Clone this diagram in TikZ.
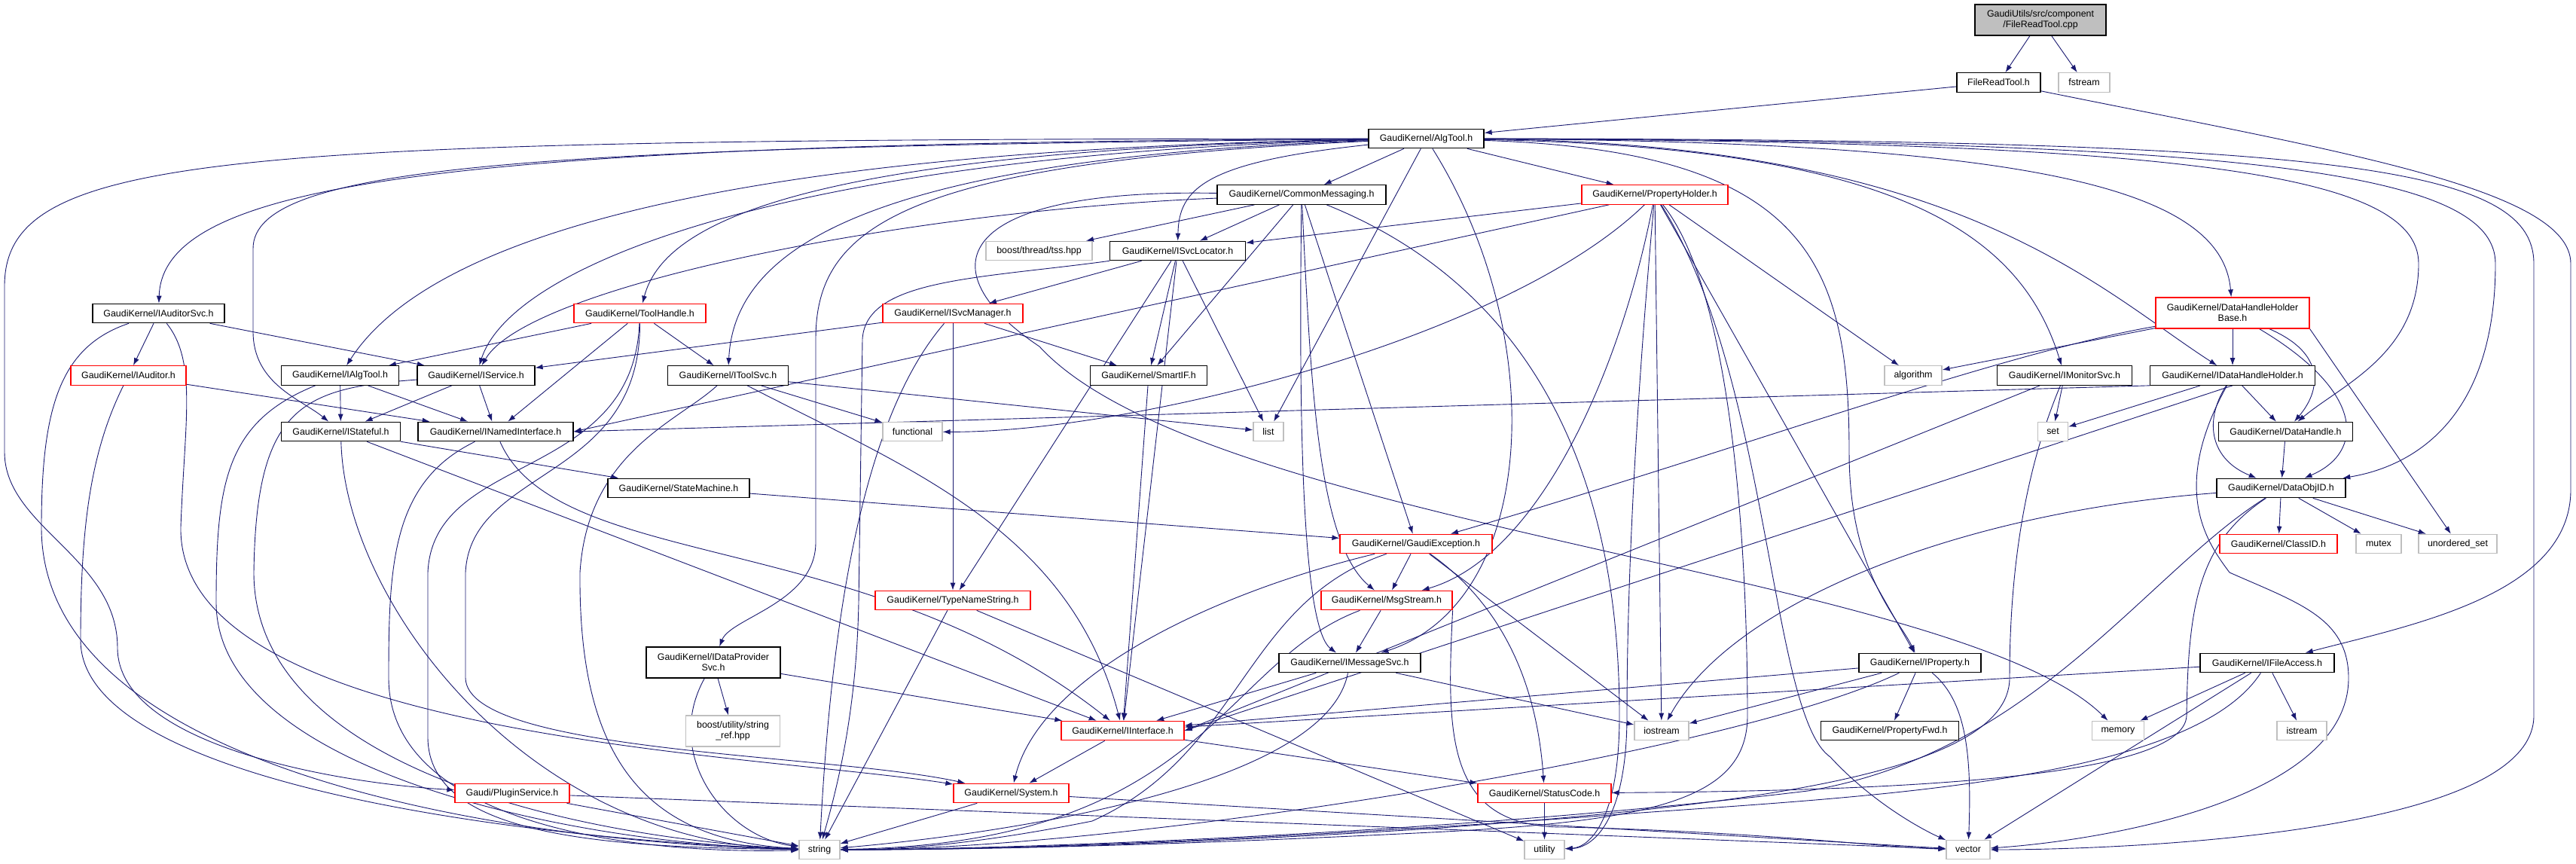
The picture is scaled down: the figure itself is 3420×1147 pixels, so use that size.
\documentclass[tikz,border=0pt]{standalone}
\usepackage{fontspec}
\setmainfont{Liberation Sans}
\usetikzlibrary{arrows.meta,backgrounds}
\definecolor{edgeblue}{HTML}{191970}
\definecolor{sysgrey}{HTML}{BFBFBF}
\definecolor{truncred}{HTML}{FF0000}
\begin{document}
\begin{tikzpicture}[x=1pt, y=-1pt,
  hdr/.style={draw=black, fill=white, line width=1.2pt, inner sep=0pt, minimum height=25.5pt, align=center, font=\fontsize{12.4}{14}\selectfont},
  hdrred/.style={hdr, draw=truncred},
  hdrsys/.style={hdr, draw=sysgrey},
  inc/.style={edgeblue, line width=0.9pt, -{Latex[length=10pt,width=7pt]}}]
\useasboundingbox (0,0) rectangle (3420,1147);

\node[hdr, fill=sysgrey, minimum width=174pt, minimum height=41pt] (root) at (2709,26.5) {GaudiUtils/src/component\\/FileReadTool.cpp};
\node[hdr, minimum width=111pt] (freadh) at (2653.5,109.5) {FileReadTool.h};
\node[hdrsys, minimum width=68pt] (fstream) at (2767,109.5) {fstream};
\node[hdr, minimum width=153pt] (algtool) at (1893.5,184) {GaudiKernel/AlgTool.h};
\node[hdr, minimum width=224pt] (commsg) at (1728,258.5) {GaudiKernel/CommonMessaging.h};
\node[hdrred, minimum width=194pt] (propholder) at (2197,258.5) {GaudiKernel/PropertyHolder.h};
\node[hdrsys, minimum width=141pt] (tss) at (1379.5,333) {boost/thread/tss.hpp};
\node[hdr, minimum width=180pt] (svcloc) at (1563.5,333) {GaudiKernel/ISvcLocator.h};
\node[hdrred, minimum width=204pt, minimum height=41pt] (dhhb) at (2964,415.5) {GaudiKernel/DataHandleHolder\\Base.h};
\node[hdr, minimum width=175pt] (iauditorsvc) at (210.5,416) {GaudiKernel/IAuditorSvc.h};
\node[hdrred, minimum width=175pt] (toolhandle) at (849.5,416) {GaudiKernel/ToolHandle.h};
\node[hdrred, minimum width=186pt] (isvcmgr) at (1265,416) {GaudiKernel/ISvcManager.h};
\node[hdrred, minimum width=153pt] (iauditor) at (170.5,498.5) {GaudiKernel/IAuditor.h};
\node[hdr, minimum width=156pt] (ialgtool) at (451.5,498.5) {GaudiKernel/IAlgTool.h};
\node[hdr, minimum width=156pt] (iservice) at (632,498.5) {GaudiKernel/IService.h};
\node[hdr, minimum width=160pt] (itoolsvc) at (966.5,498.5) {GaudiKernel/IToolSvc.h};
\node[hdr, minimum width=155pt] (smartif) at (1525,498.5) {GaudiKernel/SmartIF.h};
\node[hdrsys, minimum width=76pt] (algorithm) at (2540,498.5) {algorithm};
\node[hdr, minimum width=179pt] (imonitorsvc) at (2741,498.5) {GaudiKernel/IMonitorSvc.h};
\node[hdr, minimum width=219pt] (idhh) at (2964,498.5) {GaudiKernel/IDataHandleHolder.h};
\node[hdr, minimum width=158pt] (istateful) at (452.5,573) {GaudiKernel/IStateful.h};
\node[hdr, minimum width=206pt] (inamedif) at (658,573) {GaudiKernel/INamedInterface.h};
\node[hdrsys, minimum width=79pt] (functional) at (1211.5,573) {functional};
\node[hdrsys, minimum width=40pt] (list) at (1684,573) {list};
\node[hdrsys, minimum width=40pt] (set) at (2725.5,573) {set};
\node[hdr, minimum width=178pt] (datahandle) at (3034.5,573) {GaudiKernel/DataHandle.h};
\node[hdr, minimum width=188pt] (statemachine) at (901,648) {GaudiKernel/StateMachine.h};
\node[hdr, minimum width=171pt] (dataobjid) at (3028.5,648) {GaudiKernel/DataObjID.h};
\node[hdrred, minimum width=202pt] (gaudiexc) at (1880,722) {GaudiKernel/GaudiException.h};
\node[hdrred, minimum width=156pt] (classid) at (3025,722) {GaudiKernel/ClassID.h};
\node[hdrsys, minimum width=60pt] (mutex) at (3158,722) {mutex};
\node[hdrsys, minimum width=104pt] (unorderedset) at (3263,722) {unordered\_set};
\node[hdrred, minimum width=206pt] (typenamestr) at (1265,797) {GaudiKernel/TypeNameString.h};
\node[hdrred, minimum width=174pt] (msgstream) at (1841,797) {GaudiKernel/MsgStream.h};
\node[hdr, minimum width=178pt, minimum height=41pt] (idataprov) at (947,879.5) {GaudiKernel/IDataProvider\\Svc.h};
\node[hdr, minimum width=188pt] (imessagesvc) at (1792,880) {GaudiKernel/IMessageSvc.h};
\node[hdr, minimum width=162pt] (iproperty) at (2549,880) {GaudiKernel/IProperty.h};
\node[hdr, minimum width=178pt] (ifileaccess) at (3010,880) {GaudiKernel/IFileAccess.h};
\node[hdrsys, minimum width=125pt, minimum height=41pt] (stringref) at (973,970.5) {boost/utility/string\\\_ref.hpp};
\node[hdrred, minimum width=163pt] (iinterface) at (1490.5,970) {GaudiKernel/IInterface.h};
\node[hdrsys, minimum width=72pt] (iostream) at (2206,970) {iostream};
\node[hdr, minimum width=183pt] (propfwd) at (2509,970) {GaudiKernel/PropertyFwd.h};
\node[hdrsys, minimum width=69pt] (memory) at (2812,970) {memory};
\node[hdrsys, minimum width=66pt] (istream) at (3056,970) {istream};
\node[hdrred, minimum width=152pt] (pluginsvc) at (680,1053) {Gaudi/PluginService.h};
\node[hdrred, minimum width=153pt] (system) at (1342.5,1053) {GaudiKernel/System.h};
\node[hdrred, minimum width=177pt] (statuscode) at (2050.5,1053) {GaudiKernel/StatusCode.h};
\node[hdrsys, minimum width=54pt] (string) at (1088,1128) {string};
\node[hdrsys, minimum width=53pt] (utility) at (2050.5,1128) {utility};
\node[hdrsys, minimum width=58pt] (vector) at (2613,1128) {vector};

\begin{pgfonlayer}{background}
\draw[inc] (root) -- (freadh);
\draw[inc] (root) -- (fstream);
\draw[inc] (freadh) -- (algtool);
\draw[inc] (freadh) .. controls (3100,200) and (3413,250) .. (3413,350) -- (3413,650) .. controls (3413,790) and (3200,830) .. (ifileaccess);

\draw[inc] (algtool) .. controls (300,185) and (6,200) .. (6,380) -- (6,600) .. controls (6,700) and (156,740) .. (156,860) .. controls (156,990) and (450,1040) .. (pluginsvc);
\draw[inc] (algtool) .. controls (600,190) and (216,240) .. (iauditorsvc);
\draw[inc] (algtool) .. controls (700,195) and (336,220) .. (336,330) -- (336,440) .. controls (336,510) and (400,530) .. (istateful);
\draw[inc] (algtool) .. controls (900,200) and (560,330) .. (ialgtool);
\draw[inc] (algtool) .. controls (1050,200) and (880,300) .. (toolhandle);
\draw[inc] (algtool) .. controls (1050,205) and (680,350) .. (iservice);
\draw[inc] (algtool) .. controls (1150,210) and (975,330) .. (itoolsvc);
\draw[inc] (algtool) .. controls (1200,215) and (1083,300) .. (1083,450) -- (1083,720) .. controls (1083,800) and (970,820) .. (idataprov);
\draw[inc] (algtool) -- (commsg);
\draw[inc] (algtool) .. controls (1600,215) and (1565,250) .. (svcloc);
\draw[inc] (algtool) -- (list);
\draw[inc] (algtool) .. controls (2060,450) and (2040,800) .. (imessagesvc);
\draw[inc] (algtool) -- (propholder);
\draw[inc] (algtool) .. controls (2400,200) and (2455,350) .. (2455,600) .. controls (2455,760) and (2520,820) .. (iproperty);
\draw[inc] (algtool) .. controls (2500,195) and (2680,300) .. (imonitorsvc);
\draw[inc] (algtool) .. controls (2600,190) and (2780,380) .. (idhh);
\draw[inc] (algtool) .. controls (2700,188) and (2950,250) .. (dhhb);
\draw[inc] (algtool) .. controls (2900,188) and (3211,230) .. (3211,350) .. controls (3211,470) and (3110,510) .. (datahandle);
\draw[inc] (algtool) .. controls (3000,186) and (3313,230) .. (3313,350) .. controls (3313,560) and (3200,620) .. (dataobjid);
\draw[inc] (algtool) .. controls (3100,185) and (3364,220) .. (3364,350) -- (3364,950) .. controls (3364,1110) and (2800,1128) .. (vector);

\draw[inc] (commsg) -- (tss);
\draw[inc] (commsg) -- (svcloc);
\draw[inc] (commsg) -- (smartif);
\draw[inc] (commsg) .. controls (1740,500) and (1748,720) .. (msgstream);
\draw[inc] (commsg) .. controls (1725,500) and (1725,830) .. (imessagesvc);
\draw[inc] (commsg) -- (gaudiexc);
\draw[inc] (commsg) .. controls (1200,280) and (700,380) .. (iservice);
\draw[inc] (commsg) .. controls (1260,250) and (1230,360) .. (1380,460) .. controls (1600,700) and (2600,760) .. (memory);
\draw[inc] (commsg) .. controls (2080,400) and (2150,700) .. (2150,950) .. controls (2150,1090) and (2110,1125) .. (utility);

\draw[inc] (propholder) -- (svcloc);
\draw[inc] (propholder) -- (algorithm);
\draw[inc] (propholder) -- (iproperty);
\draw[inc] (propholder) -- (inamedif.east);
\draw[inc] (propholder) .. controls (2000,450) and (1500,575) .. (functional);
\draw[inc] (propholder) .. controls (2150,500) and (2040,740) .. (msgstream);
\draw[inc] (propholder) -- (iostream);
\draw[inc] (propholder) .. controls (2310,400) and (2320,800) .. (2320,950) .. controls (2320,1060) and (2200,1090) .. (1900,1105) .. controls (1500,1125) and (1250,1128) .. (string);
\draw[inc] (propholder) .. controls (2350,500) and (2350,950) .. (2430,1005) .. controls (2490,1070) and (2560,1105) .. (vector);
\draw[inc] (propholder) .. controls (2175,500) and (2160,750) .. (2160,950) .. controls (2160,1080) and (2120,1125) .. (utility);

\draw[inc] (svcloc) -- (isvcmgr);
\draw[inc] (svcloc) -- (smartif);
\draw[inc] (svcloc) -- (list);
\draw[inc] (svcloc) -- (typenamestr);
\draw[inc] (svcloc) -- (iinterface);
\draw[inc] (svcloc.south west) .. controls (1300,370) and (1150,370) .. (1145,450) -- (1140,800) .. controls (1137,950) and (1110,1050) .. (string);

\draw[inc] (isvcmgr) -- (iservice);
\draw[inc] (isvcmgr) -- (smartif);
\draw[inc] (isvcmgr) -- (typenamestr);
\draw[inc] (isvcmgr) .. controls (1150,550) and (1105,800) .. (string);

\draw[inc] (iauditorsvc) -- (iservice);
\draw[inc] (iauditorsvc) -- (iauditor);
\draw[inc] (iauditorsvc) .. controls (80,460) and (55,540) .. (55,700) .. controls (55,1030) and (700,1120) .. (string);
\draw[inc] (iauditorsvc) .. controls (262,480) and (245,560) .. (240,700) .. controls (236,980) and (1000,1000) .. (system);

\draw[inc] (iauditor) -- (inamedif);
\draw[inc] (iauditor) .. controls (120,600) and (107,700) .. (107,850) .. controls (107,1040) and (700,1115) .. (string);

\draw[inc] (ialgtool) -- (istateful);
\draw[inc] (ialgtool) -- (inamedif);
\draw[inc] (ialgtool) .. controls (300,560) and (287,640) .. (287,800) .. controls (287,1020) and (750,1120) .. (string);

\draw[inc] (iservice) -- (istateful);
\draw[inc] (iservice) -- (inamedif);
\draw[inc] (iservice) .. controls (400,515) and (340,540) .. (337,760) .. controls (337,1030) and (800,1115) .. (string);

\draw[inc] (istateful) -- (iinterface);
\draw[inc] (istateful) -- (statemachine);
\draw[inc] (istateful) .. controls (458,800) and (700,1120) .. (string);

\draw[inc] (inamedif) .. controls (740,760) and (1150,700) .. (iinterface);
\draw[inc] (inamedif) .. controls (520,640) and (516,750) .. (516,900) .. controls (516,1080) and (800,1135) .. (string);

\draw[inc] (toolhandle) -- (ialgtool);
\draw[inc] (toolhandle) -- (inamedif);
\draw[inc] (toolhandle) -- (itoolsvc);
\draw[inc] (toolhandle) .. controls (840,640) and (575,600) .. (568,760) -- (568,980) .. controls (570,1110) and (800,1125) .. (string);
\draw[inc] (toolhandle) .. controls (850,640) and (625,620) .. (618,760) -- (618,900) .. controls (620,1000) and (1100,1000) .. (system);

\draw[inc] (itoolsvc) -- (functional);
\draw[inc] (itoolsvc) -- (list);
\draw[inc] (itoolsvc) .. controls (1200,620) and (1420,700) .. (iinterface);
\draw[inc] (itoolsvc) .. controls (900,560) and (780,600) .. (770,760) .. controls (768,1000) and (850,1115) .. (string);

\draw[inc] (statemachine) -- (gaudiexc);
\draw[inc] (smartif) -- (iinterface);

\draw[inc] (idataprov) -- (stringref);
\draw[inc] (idataprov) .. controls (880,1000) and (960,1110) .. (string);
\draw[inc] (idataprov) -- (iinterface);

\draw[inc] (imessagesvc) -- (iinterface);
\draw[inc] (imessagesvc) .. controls (1760,1050) and (1300,1110) .. (string);
\draw[inc] (imessagesvc) -- (iostream);

\draw[inc] (msgstream) -- (imessagesvc);
\draw[inc] (msgstream) .. controls (1620,880) and (1600,1120) .. (string);
\draw[inc] (msgstream.south east) .. controls (1920,980) and (1920,1100) .. (2080,1098) .. controls (2350,1105) and (2500,1125) .. (vector);

\draw[inc] (gaudiexc) -- (msgstream);
\draw[inc] (gaudiexc) .. controls (1600,790) and (1380,900) .. (system);
\draw[inc] (gaudiexc) .. controls (1990,800) and (2040,900) .. (statuscode);
\draw[inc] (gaudiexc) -- (iostream);
\draw[inc] (gaudiexc) .. controls (1650,800) and (1650,1000) .. (1450,1090) .. controls (1300,1120) and (1200,1128) .. (string);

\draw[inc] (iinterface) -- (system);
\draw[inc] (iinterface) -- (statuscode);
\draw[inc] (system) -- (string);
\draw[inc] (system) -- (vector);
\draw[inc] (statuscode) -- (utility);
\draw[inc] (pluginsvc) -- (string);
\draw[inc] (pluginsvc) -- (vector);
\draw[inc] (typenamestr) -- (string);
\draw[inc] (typenamestr) -- (utility);

\draw[inc] (iproperty) -- (iinterface);
\draw[inc] (iproperty) -- (iostream);
\draw[inc] (iproperty) .. controls (2300,1000) and (1500,1128) .. (string);
\draw[inc] (iproperty) -- (propfwd);
\draw[inc] (iproperty) .. controls (2610,930) and (2618,1000) .. (vector);

\draw[inc] (ifileaccess) -- (iinterface);
\draw[inc] (ifileaccess) -- (memory);
\draw[inc] (ifileaccess) -- (istream);
\draw[inc] (ifileaccess) -- (vector);
\draw[inc] (ifileaccess) .. controls (2900,1050) and (2400,1060) .. (2100,1085) .. controls (1600,1120) and (1300,1128) .. (string);

\draw[inc] (imonitorsvc) -- (set);
\draw[inc] (imonitorsvc) -- (iinterface.east);
\draw[inc] (imonitorsvc) .. controls (2690,620) and (2668,750) .. (2668,900) .. controls (2668,1030) and (2300,1070) .. (1900,1100) .. controls (1500,1125) and (1250,1128) .. (string);

\draw[inc] (idhh) -- (set);
\draw[inc] (idhh) -- (datahandle);
\draw[inc] (idhh) .. controls (2925,560) and (2935,610) .. (dataobjid);
\draw[inc] (idhh.south) -- (iinterface.east);
\draw[inc] (idhh.south west) -- (inamedif.east);
\draw[inc] (idhh) .. controls (2880,650) and (2930,720) .. (2960,760) .. controls (3050,800) and (3118,820) .. (3118,900) .. controls (3118,1060) and (2800,1115) .. (vector);

\draw[inc] (dhhb) -- (algorithm);
\draw[inc] (dhhb) -- (idhh);
\draw[inc] (dhhb) .. controls (3090,470) and (3080,520) .. (datahandle);
\draw[inc] (dhhb) .. controls (3140,520) and (3140,600) .. (dataobjid);
\draw[inc] (dhhb.south east) -- (unorderedset);
\draw[inc] (dhhb) .. controls (2650,470) and (2300,600) .. (gaudiexc);

\draw[inc] (datahandle) -- (dataobjid);
\draw[inc] (dataobjid) -- (classid);
\draw[inc] (dataobjid) -- (mutex);
\draw[inc] (dataobjid) -- (unorderedset);
\draw[inc] (dataobjid) .. controls (2600,680) and (2300,800) .. (iostream);
\draw[inc] (dataobjid) .. controls (2850,760) and (2700,1000) .. (2400,1050) .. controls (1900,1110) and (1300,1128) .. (string);
\draw[inc] (dataobjid) .. controls (2920,720) and (2905,800) .. (2903,950) .. controls (2900,1035) and (2500,1050) .. (statuscode);
\end{pgfonlayer}
\end{tikzpicture}
\end{document}
